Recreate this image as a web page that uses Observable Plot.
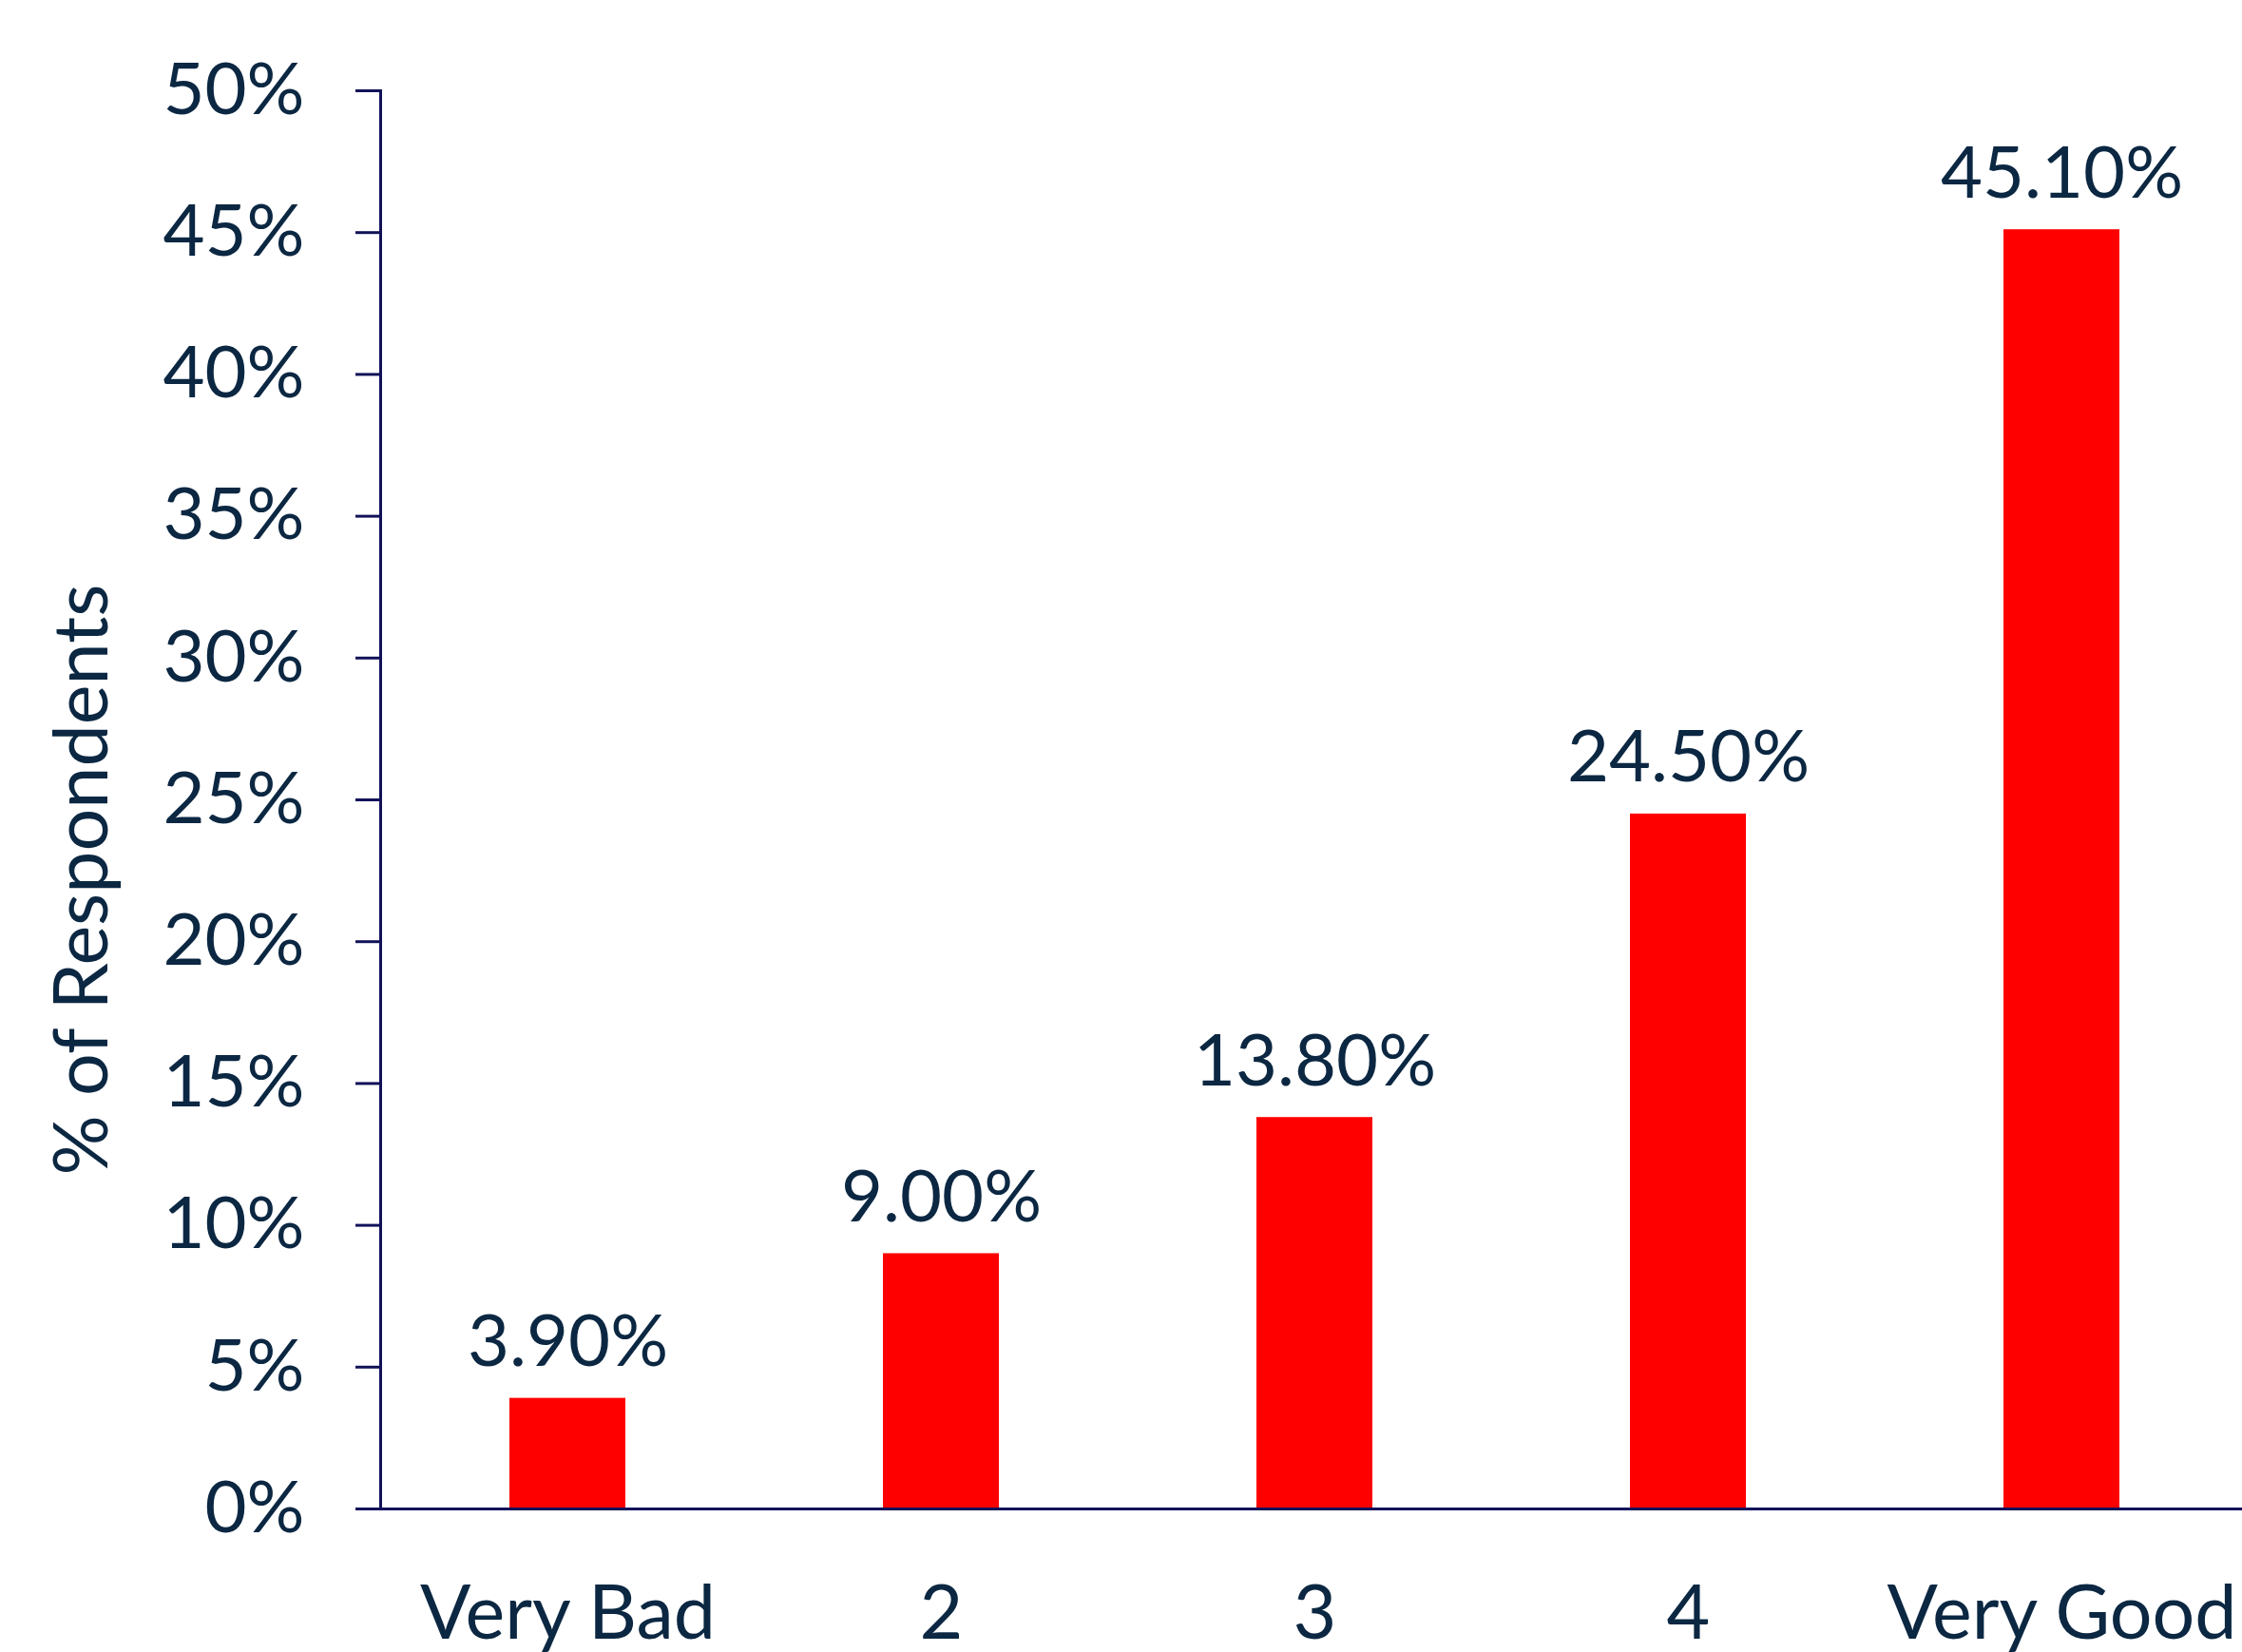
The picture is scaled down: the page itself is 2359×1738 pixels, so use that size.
<!DOCTYPE html>
<html><head><meta charset="utf-8">
<script src="https://cdn.jsdelivr.net/npm/d3@7"></script>
<script src="https://cdn.jsdelivr.net/npm/@observablehq/plot@0.6"></script>
<style>html,body{margin:0;padding:0;background:#fff} #chart svg{display:block;overflow:hidden}</style>
</head><body><div id="chart"></div>
<script>
const categories = ["Very Bad", "2", "3", "4", "Very Good"];
const values = [3.9, 9.0, 13.8, 24.5, 45.1];
const valueLabels = ["3.90%", "9.00%", "13.80%", "24.50%", "45.10%"];
const yTicks = [0, 5, 10, 15, 20, 25, 30, 35, 40, 45, 50];
const yTickLabels = ["0%", "5%", "10%", "15%", "20%", "25%", "30%", "35%", "40%", "45%", "50%"];
const yTitle = "% of Respondents";

const data = categories.map((c, i) => ({category: c, value: values[i], label: valueLabels[i]}));
const textColor = "#0b2742";
const axisColor = "#12125a";
const fsTick = 76;
const fsX = 79;

const chart = Plot.plot({
  width: 2359,
  height: 1738,
  marginLeft: 400,
  marginRight: 0,
  marginTop: 95,
  marginBottom: 151,
  style: {fontFamily: "Lato, 'Open Sans', sans-serif", background: "#fff", color: textColor},
  x: {domain: categories, range: [400, 2365], paddingInner: 0.69, paddingOuter: 0.345, label: null},
  y: {domain: [0, 50], label: null},
  marks: [
    Plot.barY(data, {x: "category", y: "value", fill: "#ff0000"}),
    Plot.ruleY([0], {stroke: axisColor, strokeWidth: 3}),
    Plot.frame({anchor: "left", stroke: axisColor, strokeWidth: 3}),
    Plot.axisY({ticks: yTicks, tickFormat: (d) => yTickLabels[yTicks.indexOf(d)], tickSize: 26, tickPadding: 54,
      fontSize: fsTick, stroke: axisColor, strokeWidth: 3, fill: textColor, label: null}),
    Plot.axisX({tickSize: 0, tickPadding: 80, fontSize: fsX, fill: textColor, label: null}),
    Plot.text(data, {x: "category", y: "value", text: "label", fontSize: fsTick, fill: textColor,
      lineAnchor: "top", dy: -(34 + 0.71 * fsTick)}),
    Plot.text([yTitle], {frameAnchor: "left", textAnchor: "middle", rotate: -90, dx: -313, dy: 84, fontSize: fsX, fill: textColor})
  ]
});
document.getElementById("chart").appendChild(chart);
</script>
</body></html>
